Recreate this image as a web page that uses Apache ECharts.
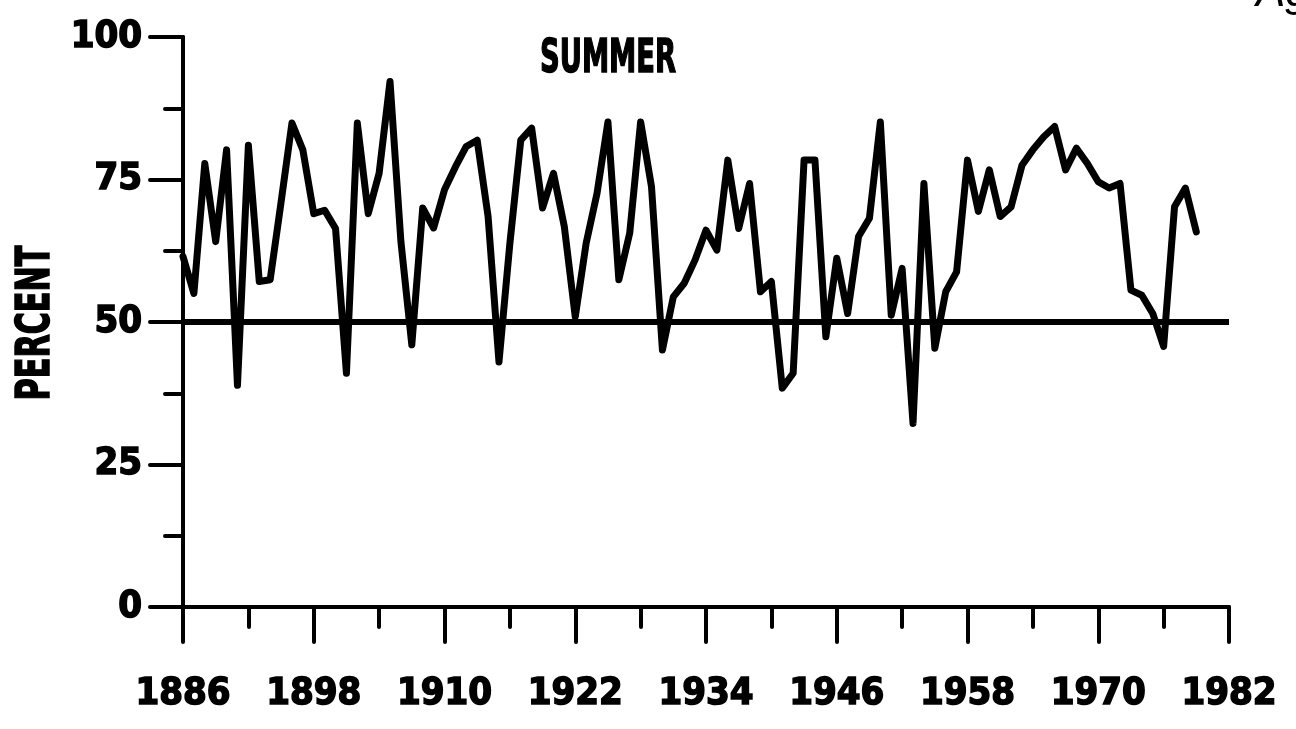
<!DOCTYPE html>
<html>
<head>
<meta charset="utf-8">
<title>SUMMER</title>
<script src="https://cdn.jsdelivr.net/npm/echarts@6/dist/echarts.min.js"></script>
<style>
  html, body { margin: 0; padding: 0; background: #fff; }
  #chart { width: 1296px; height: 729px; }
</style>
</head>
<body>
<div id="chart"></div>
<script>
// Yearly summer percentage, 1886-1979
const years = [
  1886, 1887, 1888, 1889, 1890, 1891, 1892, 1893, 1894, 1895,
  1896, 1897, 1898, 1899, 1900, 1901, 1902, 1903, 1904, 1905,
  1906, 1907, 1908, 1909, 1910, 1911, 1912, 1913, 1914, 1915,
  1916, 1917, 1918, 1919, 1920, 1921, 1922, 1923, 1924, 1925,
  1926, 1927, 1928, 1929, 1930, 1931, 1932, 1933, 1934, 1935,
  1936, 1937, 1938, 1939, 1940, 1941, 1942, 1943, 1944, 1945,
  1946, 1947, 1948, 1949, 1950, 1951, 1952, 1953, 1954, 1955,
  1956, 1957, 1958, 1959, 1960, 1961, 1962, 1963, 1964, 1965,
  1966, 1967, 1968, 1969, 1970, 1971, 1972, 1973, 1974, 1975,
  1976, 1977, 1978, 1979
];
const summerPercent = [
  61.5, 55.0, 77.8, 64.1, 80.2, 38.9, 81.0, 57.1, 57.4, 71.0,
  84.9, 80.2, 69.0, 69.6, 66.4, 41.0, 84.9, 69.0, 76.1, 92.2,
  64.1, 46.0, 70.0, 66.5, 73.2, 77.2, 80.8, 81.9, 68.5, 43.0,
  63.8, 81.9, 84.0, 70.0, 76.1, 66.7, 50.9, 63.8, 72.6, 85.1,
  57.4, 65.6, 85.1, 73.7, 45.1, 54.4, 56.8, 60.9, 66.1, 62.6,
  78.4, 66.4, 74.3, 55.3, 57.1, 38.4, 41.0, 78.4, 78.4, 47.4,
  61.2, 51.5, 65.0, 68.2, 85.1, 51.2, 59.4, 32.2, 74.3, 45.4,
  55.3, 58.8, 78.4, 69.4, 76.7, 68.5, 70.2, 77.5, 80.2, 82.5,
  84.3, 76.7, 80.5, 77.8, 74.6, 73.5, 74.3, 55.6, 54.7, 51.5,
  45.7, 70.2, 73.5, 65.8
];
const xTickLabels = [1886, 1898, 1910, 1922, 1934, 1946, 1958, 1970, 1982];
const yTickLabels = [0, 25, 50, 75, 100];
const referenceLevel = 50;
const chartTitle = 'SUMMER';
const yAxisTitle = 'PERCENT';
const cornerText = 'Ag';

const INK = '#000';
const FONT = "'DejaVu Sans Condensed', 'DejaVu Sans', 'Liberation Sans', sans-serif";

const points = years.map((y, i) => [y, summerPercent[i]]);

const chart = echarts.init(document.getElementById('chart'), null, { renderer: 'canvas' });

const tickStyle = { color: INK, width: 4, cap: 'round' };
// heavy plotter-style lettering: bold face plus a thin outline in the same ink
const heavyText = { color: INK, fontWeight: 'bold', fontFamily: FONT, textBorderColor: INK, textBorderWidth: 1.5 };

const option = {
  animation: false,
  backgroundColor: '#fff',
  grid: { left: 183, right: 67, top: 37, bottom: 122, containLabel: false },
  xAxis: {
    type: 'value',
    min: xTickLabels[0],
    max: xTickLabels[xTickLabels.length - 1],
    interval: xTickLabels[1] - xTickLabels[0],
    axisLine: { onZero: false, lineStyle: { color: INK, width: 4 } },
    axisTick: { length: 35, lineStyle: tickStyle },
    minorTick: { show: true, splitNumber: 2, length: 20, lineStyle: tickStyle },
    splitLine: { show: false },
    minorSplitLine: { show: false },
    axisLabel: Object.assign({
      margin: 68, fontSize: 38,
      showMinLabel: true, showMaxLabel: true,
      formatter: v => String(v)
    }, heavyText)
  },
  yAxis: {
    type: 'value',
    min: yTickLabels[0],
    max: yTickLabels[yTickLabels.length - 1],
    interval: yTickLabels[1] - yTickLabels[0],
    axisLine: { show: true, onZero: false, lineStyle: { color: INK, width: 4 } },
    axisTick: { show: true, length: 33, lineStyle: tickStyle },
    minorTick: { show: true, splitNumber: 2, length: 18, lineStyle: tickStyle },
    splitLine: { show: false },
    minorSplitLine: { show: false },
    axisLabel: Object.assign({
      margin: 41, fontSize: 38,
      formatter: v => String(v)
    }, heavyText)
  },
  series: [{
    type: 'line',
    data: points,
    showSymbol: false,
    symbol: 'none',
    lineStyle: { color: INK, width: 7, join: 'round', cap: 'round' },
    markLine: {
      silent: true,
      symbol: 'none',
      label: { show: false },
      lineStyle: { type: 'solid', color: INK, width: 6 },
      data: [{ yAxis: referenceLevel }]
    }
  }],
  graphic: [
    {
      // chart title, condensed horizontally
      type: 'text', x: 608, y: 60, scaleX: 0.66,
      style: { text: chartTitle, fill: INK, stroke: INK, lineWidth: 1.5, font: 'bold 46px ' + FONT, align: 'center', verticalAlign: 'middle' }
    },
    {
      // vertical axis title, reading bottom to top
      type: 'text', x: 37, y: 323, rotation: Math.PI / 2, scaleX: 0.73,
      style: { text: yAxisTitle, fill: INK, stroke: INK, lineWidth: 1.5, font: 'bold 46px ' + FONT, align: 'center', verticalAlign: 'middle' }
    },
    {
      type: 'text', x: 1256, y: 16,
      style: { text: cornerText, fill: INK, font: 'italic 44px "Liberation Sans", sans-serif', align: 'left', verticalAlign: 'bottom' }
    }
  ]
};

chart.setOption(option);
</script>
</body>
</html>
